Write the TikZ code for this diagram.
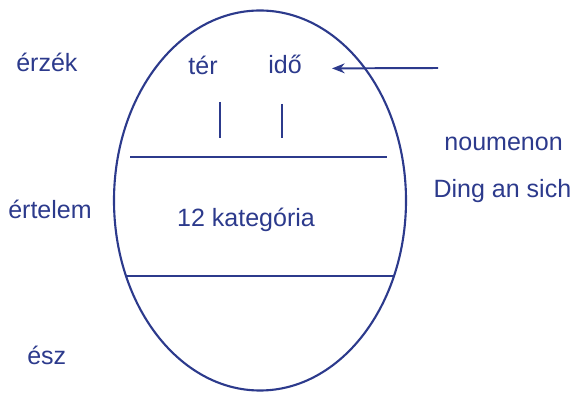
\documentclass[tikz,border=0pt]{standalone}
\usepackage{fontspec}
\setmainfont{Liberation Sans}
\usetikzlibrary{arrows.meta}
\definecolor{kantblue}{RGB}{44,58,140}
\begin{document}
\begin{tikzpicture}[
    every node/.style={text=kantblue, font=\fontsize{17.8}{21}\selectfont, inner sep=0pt},
    divider/.style={draw=kantblue, line width=1.4pt},
    tick/.style={draw=kantblue, line width=2.1pt}
]
        \useasboundingbox (0,0) rectangle (14.35,9.9);

        \draw[kantblue, line width=1.5pt] (6.5,4.8875) ellipse (3.65 and 4.75);

        \draw[divider] (3.25,5.975) -- (9.675,5.975);
        \draw[divider] (3.15,3.0) -- (9.875,3.0);

        \draw[tick] (5.5,7.35) -- (5.5,6.45);
        \draw[tick] (7.05,7.3) -- (7.05,6.45);

        \node[anchor=base west] (erzek) at (0.4,8.1) {érzék};
        \node[anchor=base west] (ertelem) at (0.2,4.425) {értelem};
        \node[anchor=base west] (esz) at (0.675,0.8) {ész};

        \node[anchor=base] (ter) at (5.075,8.025) {tér};
        \node[anchor=base] (ido) at (7.125,8.05) {idő};
        \node[anchor=base] (kat) at (6.15,4.225) {12 kategória};

        \node[anchor=base] (noum) at (12.59,6.125) {noumenon};
        \node[anchor=base] (ding) at (12.56,4.95) {Ding an sich};

        \coordinate (from) at (10.95,8.2);
        \coordinate (to) at (8.3,8.19);
        \draw[kantblue, line width=1.4pt, -{Stealth[length=9pt, width=7pt]}] (from) -- (to);
\end{tikzpicture}
\end{document}
